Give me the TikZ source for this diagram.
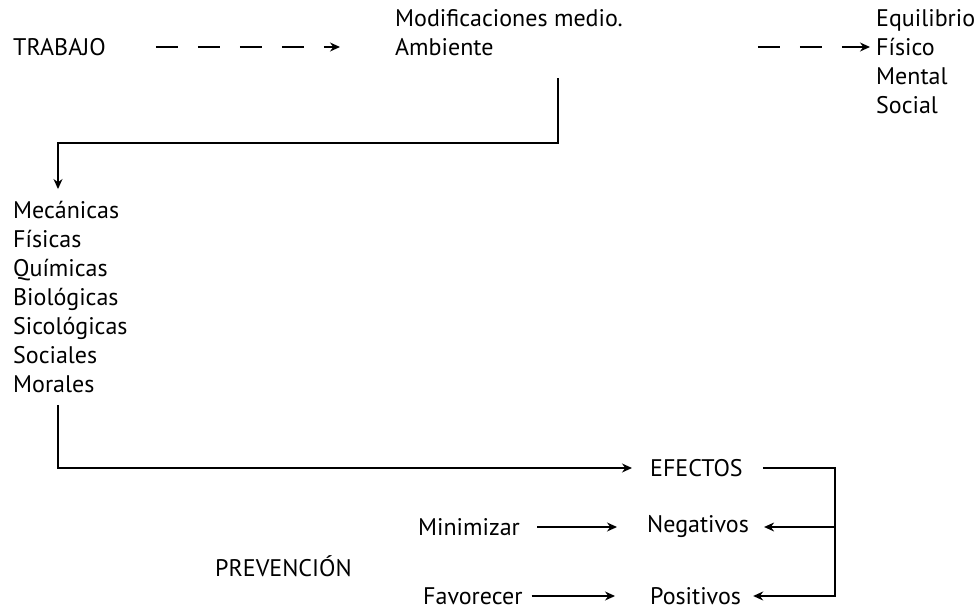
\documentclass[tikz,border=0pt]{standalone}
\usepackage{fontspec}
\setmainfont{PT Sans}
\usetikzlibrary{arrows.meta}

\tikzset{
  txt/.style={font=\fontsize{24}{29}\selectfont, inner sep=0pt, anchor=west, align=left},
  conn/.style={-{Stealth[length=10pt, width=9pt]}, line width=1.4pt},
  dasharrow/.style={conn, dash pattern=on 22pt off 20pt}
}

\begin{document}
\begin{tikzpicture}[x=1pt, y=-1pt]
  \useasboundingbox (0,0) rectangle (978,613);

  \node[txt] (trabajo) at (13,47) {TRABAJO};
  \node[txt] (modif) at (395,33) {Modificaciones medio.\\Ambiente};
  \node[txt] (equil) at (876,62) {Equilibrio\\Físico\\Mental\\Social};
  \node[txt] (causas) at (13,297) {Mecánicas\\Físicas\\Químicas\\Biológicas\\Sicológicas\\Sociales\\Morales};
  \node[txt] (efectos) at (650,468) {EFECTOS};
  \node[txt] (negativos) at (647,527) {Negativos};
  \node[txt] (positivos) at (650,596) {Positivos};
  \node[txt] (minimizar) at (418,527) {Minimizar};
  \node[txt] (favorecer) at (423,596) {Favorecer};
  \node[txt] (prevencion) at (215,566) {PREVENCIÓN};

  \coordinate (k1) at (558,143);
  \coordinate (k2) at (58,468);
  \coordinate (k3) at (835,468);

  % trabajo -> medio -> equilibrio
  \draw[dasharrow, shorten <=50pt, shorten >=55pt] (trabajo.east) -- (trabajo.east -| modif.west);
  \draw[dasharrow, shorten <=135pt, shorten >=6pt] (modif.east |- trabajo.east) -- (equil.west |- trabajo.east);

  % medio -> causas -> efectos
  \draw[conn, shorten <=22pt, shorten >=12pt] (k1 |- modif.south) -- (k1) -| (k2 |- causas.north);
  \draw[conn, shorten <=12pt, shorten >=18pt] (k2 |- causas.south) -- (k2) -- (k2 -| efectos.west);

  % efectos -> negativos / positivos
  \draw[conn, shorten <=20pt, shorten >=12pt] (efectos.east) -| (k3 |- positivos.east) -- (positivos.east);
  \draw[conn, shorten >=15pt] (k3 |- negativos.east) -- (negativos.east);

  \draw[conn, shorten <=17pt, shorten >=30pt] (minimizar) -- (negativos);
  \draw[conn, shorten <=9pt, shorten >=35pt] (favorecer.east) -- (positivos.west);
\end{tikzpicture}
\end{document}
